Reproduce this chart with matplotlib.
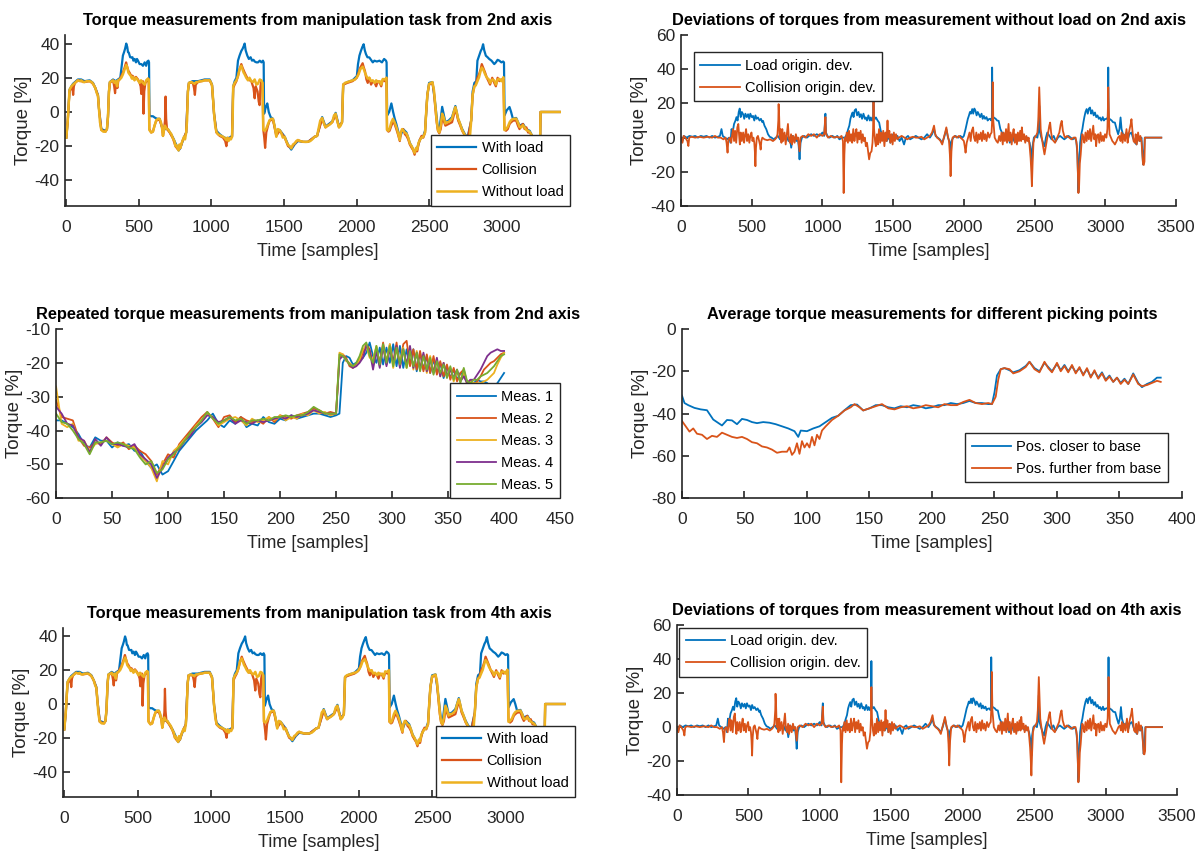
import matplotlib
matplotlib.use("Agg")
import matplotlib.pyplot as plt
import numpy as np

# ---------------- data ----------------
# manipulation task, torque [%] vs sample  (2nd and 4th axis look identical)
without_load = [(0,-15),(10,-5),(22,13),(35,15),(46,16),(60,17),(80,18.5),(95,18),(103,18.5),(115,17.5),(126,17.5),(140,18),(161,18),(175,17.5),(184,16.5),(200,14),(210,11),(218,9.5),(225,2),(232,-6),(241,-10.5),(255,-11.5),(270,-11.5),(280,-10),(287,-3),(294,12),(300,17.5),(312,18),(322,18.5),(332,17),(340,18),(350,15),(356,18.5),(368,19),(379,20),(390,22),(402,25),(413,27.5),(420,26),(428,23),(436,22),(445,21),(452,19.5),(459,20.5),(470,18.5),(480,20),(494,18.5),(505,17),(515,18.5),(528,17),(540,16),(550,18.5),(563,19.5),(568,19),(572,-10.5),(585,-12),(597,-11.5),(608,-8),(620,-4.8),(632,-4),(643,-4),(652,-6),(659,-8.7),(666,-14),(673,-10.5),(680,-8),(689,-9.7),(700,-10),(712,-11.6),(724,-13),(735,-15.5),(745,-17),(752,-20),(758,-19.3),(765,-21),(774,-22.5),(780,-19),(786,-21),(792,-19),(800,-17),(811,-14.5),(818,-16),(826,-12),(832,-5),(838,12),(845,17),(861,17.5),(872,17),(884,16.5),(895,17.5),(907,17.5),(920,18),(935,18),(953,18.5),(970,18.5),(988,18.5),(998,17),(1004,15.5),(1011,8),(1018,-1),(1026,-8),(1034,-11.6),(1045,-13),(1057,-13.5),(1068,-14),(1080,-14.5),(1090,-15),(1103,-16.5),(1110,-15),(1118,-17),(1125,-15.5),(1134,-16),(1142,-14.5),(1146,-5),(1150,15),(1160,17),(1172,18.5),(1183,21),(1194,25),(1206,27),(1214,25),(1222,23),(1229,22),(1240,20),(1252,18.5),(1262,20),(1275,18),(1286,17.5),(1298,19),(1310,16),(1321,16.5),(1333,19),(1344,18.5),(1352,17),(1357,-10.5),(1368,-11),(1378,-9.7),(1390,-7),(1401,-4.8),(1413,-4),(1424,-4),(1435,-8),(1447,-14.5),(1458,-10),(1470,-10.6),(1480,-12),(1492,-15),(1505,-14.5),(1515,-17),(1528,-19.3),(1540,-20),(1550,-21.3),(1562,-19),(1573,-18.4),(1585,-17),(1596,-16.4),(1610,-17),(1631,-17.4),(1650,-17.5),(1665,-17.4),(1681,-17),(1695,-16),(1711,-14.5),(1728,-14),(1740,-9),(1750,-5),(1763,-3.5),(1772,-6),(1786,-9),(1800,-8),(1809,-7.7),(1820,-7),(1833,-5.8),(1845,-2),(1856,-1),(1866,-5),(1879,-9),(1890,-8),(1900,-6),(1904,5),(1908,16),(1920,17),(1937,17.5),(1955,18),(1972,18.5),(1990,19),(2002,20.3),(2014,22),(2026,25),(2042,26.5),(2050,25),(2058,23),(2068,21),(2077,19.5),(2088,20),(2100,18),(2112,18.5),(2125,17),(2135,18.5),(2147,17.5),(2160,18),(2170,16),(2181,19.3),(2195,19),(2206,20),(2210,-10.5),(2220,-11),(2228,-9.7),(2240,-6),(2251,-4),(2262,-6),(2274,-8.7),(2285,-12),(2298,-16.4),(2305,-12),(2314,-10),(2321,-10.6),(2333,-12),(2344,-12.6),(2356,-15),(2367,-18.4),(2380,-20),(2391,-22.2),(2400,-24),(2410,-21),(2418,-22),(2427,-18),(2437,-16.4),(2448,-15),(2460,-14.5),(2472,-12),(2480,0),(2488,10),(2500,16.4),(2512,17),(2523,17.4),(2533,13),(2542,4.8),(2552,-5),(2561,-10.6),(2570,-12),(2580,-8),(2590,-1),(2600,-3),(2612,-6.8),(2623,-6),(2635,-5.8),(2646,-5),(2658,-3.9),(2670,0),(2681,2.9),(2690,0),(2700,-4),(2710,-6),(2728,-10.6),(2747,-13.5),(2765,-16),(2780,-16),(2790,-5),(2800,10),(2812,15),(2821,15.5),(2833,18),(2844,20.3),(2855,24),(2863,26),(2872,25),(2886,22),(2898,20),(2909,19.3),(2920,17),(2935,19),(2949,18.4),(2960,16),(2972,19),(2984,19.3),(2998,18),(3012,20.3),(3019,-10.6),(3030,-10),(3042,-8.7),(3055,-6),(3065,-4.8),(3080,-4),(3100,-3.9),(3112,-6),(3123,-8.7),(3135,-9),(3147,-7.7),(3158,-9),(3170,-10.6),(3182,-11),(3193,-11.6),(3210,-14),(3230,-16),(3250,-18),(3265,-17),(3268,0),(3300,0),(3350,0),(3400,0)]

with_load = [(0,-15),(10,-5),(22,13),(35,15),(46,16.5),(60,17.5),(80,19),(103,19),(126,18),(161,18.5),(184,17),(200,14),(218,10),(225,2),(241,-10),(270,-11),(280,-10),(287,-3),(294,12),(300,17.5),(322,19),(340,18),(356,19),(372,20),(380,26),(390,33),(398,35),(405,37),(413,40),(420,38),(425,35),(430,34.8),(440,32),(448,31.9),(456,32),(462,30),(471,31),(480,29),(487,31),(494,30),(505,28),(517,28),(528,27),(540,29),(550,27),(558,29.5),(566,30),(570,29),(573,-2),(585,-2.5),(597,-2.5),(610,-3.3),(625,-4),(643,-4),(659,-8.7),(673,-10),(700,-10),(735,-15),(758,-19.3),(774,-22.5),(786,-21),(800,-17.5),(811,-15),(826,-12),(838,12),(845,17),(870,18),(907,18),(953,19),(988,19),(1004,16),(1018,-1),(1034,-11),(1057,-13),(1080,-14.5),(1103,-15.5),(1125,-15),(1142,-14),(1150,15),(1160,18),(1172,20),(1183,30),(1194,33),(1206,35.7),(1215,37),(1225,39),(1229,40),(1236,36),(1247,33),(1258,31),(1270,32),(1280,30),(1290,30.5),(1298,29.5),(1310,29),(1321,29),(1333,30),(1345,29),(1355,30),(1360,29),(1363,-1),(1375,3),(1385,5),(1395,0),(1408,-3),(1424,-4),(1447,-13),(1470,-10.5),(1505,-14.5),(1530,-19.5),(1550,-22),(1573,-19),(1596,-17),(1631,-17.5),(1665,-17.5),(1711,-14.5),(1728,-14),(1763,-3),(1786,-8.5),(1833,-5.5),(1856,-0.5),(1879,-8.5),(1900,-6),(1908,16),(1937,17.5),(1972,18.5),(2002,21),(2010,28),(2020,33),(2030,35.7),(2040,38),(2049,39.6),(2057,36),(2065,33.8),(2075,32),(2088,31.9),(2100,30.5),(2112,29),(2123,30),(2140,29.5),(2158,30),(2175,29),(2190,31),(2203,30),(2207,29),(2211,-2),(2225,0),(2240,5),(2252,0),(2263,-3.9),(2274,-7),(2298,-15),(2321,-10),(2344,-12),(2367,-18),(2391,-22),(2400,-23),(2418,-21),(2437,-16),(2460,-14),(2472,-11),(2488,10),(2500,17),(2523,17.5),(2542,5),(2561,-10),(2570,-11),(2590,3),(2600,-1),(2612,-6),(2635,-5),(2658,-3),(2681,3.5),(2700,-4),(2728,-10),(2747,-13),(2765,-15),(2790,-5),(2800,12),(2812,17),(2825,18),(2833,30),(2845,33),(2856,35.7),(2864,37),(2872,39.6),(2880,36),(2891,32.9),(2903,32),(2914,31),(2930,30),(2949,28),(2960,29),(2972,30.5),(2984,30),(2998,29),(3010,29.5),(3016,29),(3020,-2),(3035,1),(3054,2.9),(3065,0),(3077,-3.9),(3100,-3.5),(3123,-8),(3147,-7),(3170,-10),(3193,-11),(3210,-14),(3250,-17),(3265,-17),(3268,0),(3400,0)]

collision = [(0,-15),(10,-5),(22,12),(35,14),(42,15),(47,10),(52,15),(60,17),(80,18.5),(103,18),(126,17.5),(161,18),(184,16.5),(200,14),(218,9.5),(225,2),(241,-10.5),(270,-11.5),(280,-10),(287,-3),(294,12),(300,17),(322,18.5),(330,15),(336,11),(342,17),(352,14),(358,18),(370,19.5),(379,21),(390,23),(402,26),(412,29),(418,27),(428,24),(436,23),(445,21.5),(459,21),(470,19),(480,20.5),(494,19),(505,17),(512,15),(517,10.5),(522,17),(528,18),(532,-1),(537,12),(545,17),(555,18),(563,19.5),(568,19),(572,-10),(585,-12),(597,-11.5),(608,-8),(620,-5),(643,-4.5),(659,-9),(666,-14),(673,-10.5),(680,-5),(684,9),(688,-4),(694,-10),(712,-12),(735,-15.5),(752,-20),(765,-21.5),(774,-22),(786,-21),(800,-17),(811,-15),(826,-12),(838,12),(845,17),(872,17),(880,14),(886,10),(892,16),(907,17.5),(953,18.5),(988,18.5),(1004,15.5),(1018,-1),(1034,-12),(1057,-14),(1080,-15),(1095,-17),(1103,-20),(1110,-15.5),(1125,-15.5),(1142,-14.5),(1150,14),(1160,16),(1172,18),(1183,21),(1194,25),(1206,28),(1214,26),(1229,23),(1252,19),(1275,18),(1290,14),(1298,8),(1305,15),(1318,12),(1326,6),(1332,4),(1338,15),(1344,18),(1352,17),(1357,-10),(1364,-15),(1370,-21),(1378,-12),(1390,-8),(1401,-5),(1424,-4.5),(1447,-14),(1470,-11),(1505,-15),(1528,-20),(1550,-21),(1573,-18.5),(1596,-16.5),(1631,-17.5),(1665,-17.5),(1711,-14.5),(1728,-14),(1763,-4),(1786,-9),(1833,-6),(1856,-1.5),(1879,-9),(1900,-6),(1908,16),(1937,17),(1972,18),(2002,20),(2014,23),(2026,26),(2042,28.5),(2050,26),(2058,24),(2068,19),(2077,17),(2088,20),(2100,16),(2112,18),(2125,17),(2135,15),(2147,18),(2160,17),(2170,15),(2181,19),(2195,18),(2206,20),(2210,-10.5),(2220,-11.5),(2228,-11),(2240,-8),(2251,-6),(2262,-7),(2274,-10),(2285,-13),(2298,-17),(2305,-12),(2321,-10),(2333,-13),(2344,-14),(2356,-16),(2367,-19),(2380,-21),(2391,-22.5),(2400,-25),(2410,-22),(2418,-23),(2427,-19),(2437,-16),(2448,-14),(2460,-15),(2472,-12),(2480,0),(2488,10),(2500,16),(2512,16.5),(2523,17),(2533,12),(2542,3),(2552,-6),(2561,-11),(2570,-12.5),(2580,-10),(2590,-4),(2600,-5),(2612,-8),(2635,-7),(2658,-6),(2670,-2),(2681,1),(2690,-1),(2700,-5),(2710,-7),(2728,-11),(2747,-14),(2765,-16),(2790,-5),(2800,10),(2812,15),(2821,16),(2833,20),(2844,22),(2855,25),(2863,28),(2872,26),(2886,23),(2898,20),(2909,18),(2920,16),(2935,20),(2949,17),(2960,15),(2972,20),(2984,18),(2998,19),(3012,19),(3019,-10),(3030,-11),(3042,-10),(3055,-7),(3065,-6),(3080,-5),(3100,-5),(3112,-8),(3123,-10),(3135,-8),(3147,-7),(3158,-10),(3170,-9),(3182,-12),(3193,-12),(3210,-14),(3230,-16),(3250,-18),(3265,-17),(3268,0),(3400,0)]

# deviations from the measurement without load
load_dev = [(0,0),(10,-2),(20,1),(40,0),(60,1),(80,0.5),(100,1),(120,0),(140,1),(160,0.5),(180,1),(200,0),(220,1),(240,0),(260,0.5),(275,1),(286,5),(295,1),(310,0),(325,-1),(340,0),(350,-3),(357,5),(365,3),(375,8),(385,10),(392,12),(400,10),(408,15),(415,17),(422,12),(430,15),(439,13.7),(447,11),(455,14),(465,12),(474,13.7),(482,11),(490,14),(500,12),(509,12.7),(518,10),(526,13),(535,11),(544,11.8),(555,10),(565,11),(575,9),(580,9.8),(590,7),(603,4.9),(615,2),(627,0.5),(640,0),(655,-1),(670,0),(685,1),(700,-1),(715,2),(730,0),(745,1),(760,-2),(770,0),(779,-5.9),(790,1),(800,0),(815,-2),(825,0),(832,-5),(838,-12.7),(845,-3),(855,0),(870,1),(890,0),(905,1),(920,2),(940,1),(960,2),(980,1),(1000,3),(1012,1),(1018,10),(1021,14),(1025,3),(1035,1),(1050,0),(1070,1),(1090,0),(1105,1),(1120,-1),(1140,0),(1160,0),(1172,2),(1182,5),(1190,7),(1198,11),(1205,13),(1213,14.7),(1220,12),(1228,16),(1237,16.7),(1245,13),(1255,15),(1263,12),(1272,13.7),(1280,11),(1290,14),(1300,11),(1307,11.8),(1315,10),(1325,13),(1335,10),(1342,11.8),(1350,10),(1358,12),(1361,38.8),(1364,12),(1372,11),(1378,11.8),(1390,10),(1401,8.8),(1412,4),(1425,1),(1440,0),(1455,-2),(1470,1),(1480,-3),(1490,0),(1500,2),(1515,-1),(1530,1),(1545,-2),(1560,0),(1577,-4),(1590,0),(1605,1),(1620,-1),(1640,0),(1660,1),(1680,0),(1700,-1),(1720,0),(1740,2),(1760,0),(1775,2),(1789,5),(1800,1),(1815,0),(1830,-1),(1847,-3),(1860,0),(1876,5),(1888,0),(1900,-3),(1906,-8),(1912,-2),(1925,0),(1940,1),(1960,0),(1975,1),(1990,0),(2000,1),(2012,5),(2020,8),(2028,11),(2035,12.7),(2043,15),(2050,14),(2059,16.7),(2066,14),(2074,17),(2082,15.7),(2090,13),(2098,15),(2106,13.7),(2115,12),(2125,14),(2133,11),(2141,12.7),(2150,11),(2160,12),(2168,10),(2176,10.8),(2185,11),(2194,10),(2198,12),(2200,41),(2203,12),(2211,11.8),(2225,11),(2235,10),(2246,9.8),(2258,5),(2270,2.9),(2282,0),(2293,0),(2305,-2),(2315,1),(2325,-3),(2335,0),(2345,2),(2355,-2),(2365,0),(2375,-3),(2390,1),(2405,-1),(2420,0),(2435,-2),(2450,0),(2465,-3),(2475,-8),(2481,-16.7),(2486,-5),(2495,0),(2505,1),(2520,0),(2528,5),(2533,18.6),(2538,3),(2548,0),(2560,-3),(2570,-5),(2580,0),(2590,3),(2605,1),(2620,-1),(2635,1),(2650,-2),(2665,0),(2680,1),(2695,0),(2710,-1),(2725,0),(2740,1),(2755,0),(2770,-1),(2785,0),(2795,-2),(2803,-10),(2810,-32),(2815,-15),(2822,-3),(2830,2),(2838,5),(2845,8.8),(2852,12),(2860,15),(2868,16.7),(2876,14),(2884,17),(2892,17.6),(2900,14),(2908,16),(2918,13),(2927,14.7),(2936,12),(2945,13),(2954,11),(2962,11.8),(2972,10),(2982,12),(2990,10),(2997,10.8),(3010,11),(3018,12),(3021,41),(3024,11),(3033,10.8),(3045,10),(3055,9),(3068,8.8),(3080,5),(3091,2),(3100,5),(3108,11.8),(3115,5),(3125,2),(3138,1),(3150,3),(3160,-1),(3170,2),(3185,3),(3195,0),(3205,-2),(3220,-4),(3232,0),(3245,-2),(3256,0),(3262,-8),(3267,-15.7),(3272,-12),(3279,0),(3396,0)]

collision_dev = [(0,0),(10,-3),(18,1),(30,0),(45,-2),(52,-4.9),(58,0),(75,0.5),(100,0),(130,0.5),(160,0),(190,0.5),(220,0),(240,1),(260,0),(280,0),(300,-1),(315,0),(322,-3),(329,-8.8),(335,-1),(345,0),(355,-3),(362,2),(368,5),(375,-2),(382,4),(390,-3),(398,6),(405,8),(410,2),(416,-4),(422,3),(430,-2),(439,3),(446,-3),(452,1),(460,5),(467,-2),(475,2),(483,-3),(490,1),(498,3),(505,-2),(512,0),(518,-3),(522,-8),(526,-16.7),(530,-6),(536,0),(544,1),(552,-2),(558,-4),(563,-7),(568,-2),(575,0),(590,-1),(610,-1.5),(630,-1),(650,-2),(665,-1),(675,0),(682,2),(688,10),(690,19.6),(694,12),(698,0),(704,4.9),(710,-3),(716,5),(722,-2),(732,3),(740,-4),(748,2),(756,8),(762,0),(770,-3),(778,2),(785,-4),(793,1),(803,-3),(812,2),(820,-1),(828,0),(838,-8),(845,0),(860,1),(880,0),(900,2),(920,1),(940,2),(960,0),(980,2),(1000,1),(1012,2),(1018,8),(1021,12),(1025,2),(1040,0),(1060,1),(1080,0),(1100,0.5),(1120,0),(1135,1),(1145,-2),(1150,-32.4),(1155,-10),(1160,0),(1166,-2),(1172,3),(1180,-3),(1188,4),(1195,-2),(1203,2),(1210,-3),(1218,5),(1226,-2),(1233,2),(1240,5),(1247,-3),(1255,3),(1262,-1),(1270,4),(1277,-3),(1285,2),(1292,-2),(1300,0),(1307,-5),(1315,-3),(1323,-8),(1330,-12.7),(1338,-9),(1347,-8),(1354,-3),(1358,5),(1361,23.5),(1365,5),(1372,-2),(1378,-5),(1385,2),(1392,-4),(1400,5),(1408,-3),(1415,3),(1422,-2),(1430,4),(1438,-5),(1446,3),(1453,-2),(1460,10),(1466,0),(1473,4),(1480,-3),(1488,2),(1496,-4),(1505,3),(1512,-2),(1520,2),(1530,-1),(1540,0),(1560,1),(1580,0),(1600,-1),(1620,0),(1640,0.5),(1660,0),(1680,0),(1700,0.5),(1720,-1),(1740,0),(1760,1),(1775,3),(1789,7),(1798,2),(1810,0),(1825,-1),(1835,-2),(1847,-4),(1858,0),(1868,3),(1876,6),(1886,1),(1895,-2),(1901,-10),(1906,-22.5),(1912,-8),(1920,0),(1935,1),(1950,0),(1965,1),(1976,0),(1990,-1),(2000,-2),(2006,-5),(2012,-8.8),(2020,-3),(2030,0),(2040,3),(2048,-2),(2056,4),(2065,6),(2072,0),(2080,-2),(2088,3),(2096,-3),(2104,2),(2112,-1),(2120,3),(2128,-2),(2136,4),(2144,-1),(2152,2),(2160,-2),(2170,3),(2180,0),(2188,2),(2196,3),(2200,10),(2204,32.4),(2208,10),(2218,0),(2230,-2),(2240,-3),(2250,1),(2258,-2),(2266,3),(2275,-4),(2281,3),(2290,-2),(2298,5),(2305,-3),(2312,4),(2316,8),(2322,-2),(2330,3),(2338,-4),(2345,2),(2352,5),(2360,-3),(2368,2),(2375,-4),(2382,3),(2390,-2),(2398,4),(2405,-2),(2410,6),(2418,-1),(2426,2),(2434,-3),(2442,1),(2450,-2),(2458,0),(2465,-5),(2472,-12),(2477,-20),(2481,-28.4),(2486,-15),(2492,-3),(2500,0),(2510,1),(2520,3),(2526,10),(2530,22),(2533,29.4),(2537,20),(2543,5),(2551,0),(2560,-5),(2570,-9.8),(2580,-5),(2590,0),(2598,4),(2604,7),(2610,8.8),(2617,3),(2625,-1),(2635,-2),(2645,-3),(2655,-1),(2665,1),(2675,3),(2685,8),(2692,9.8),(2700,4),(2710,1),(2716,0),(2730,1),(2745,0),(2760,-1),(2775,0),(2790,0),(2800,-5),(2806,-20),(2810,-32.4),(2815,-28),(2820,-15),(2826,-10),(2832,-3),(2838,2),(2845,0),(2852,-3),(2860,3),(2868,-2),(2876,4),(2884,-1),(2892,5),(2900,-2),(2908,3),(2915,7),(2922,-1),(2930,2),(2935,-5),(2942,1),(2950,2),(2958,-3),(2966,3),(2975,-2),(2983,1),(2990,-2),(2998,2),(3008,0),(3015,5),(3018,15),(3021,29.4),(3025,15),(3030,2),(3040,0),(3050,-2),(3060,-3),(3068,-4),(3080,-2),(3090,0),(3100,1),(3108,-2),(3115,3),(3122,-3),(3130,2),(3140,-2),(3150,5),(3158,-3),(3165,2),(3172,5),(3180,8),(3185,10.8),(3192,4),(3200,-2),(3209,-3),(3215,2),(3222,-4),(3232,3),(3240,-2),(3248,1),(3256,-2),(3262,-10),(3267,-15.7),(3272,-16),(3277,-14),(3280,0),(3396,0)]

# repeated measurements (2nd axis): samples 0..250 step 5, then 253..400 step 3
rep_t = list(range(0, 251, 5)) + list(range(253, 401, 3))
meas1 = [-37,-37,-38,-39,-41,-44,-45,-42,-43,-43,-45,-43.5,-44.5,-44,-46,-46,-49,-51,-50,-53,-52,-49,-46,-44,-42,-40,-38.5,-37,-35,-38,-39,-37,-38,-36,-39,-38,-38.5,-36,-37.5,-38,-36.5,-37,-35.5,-36.5,-36,-35.5,-35,-35,-35.5,-36,-35.5,
         -35,-20,-18,-18.5,-20.5,-20,-19,-18.5,-17,-14,-18,-20,-15.5,-20.5,-15.5,-20,-14.5,-21,-15,-21.5,-16,-20.5,-16,-22.5,-17,-22,-18,-23,-19,-23,-20,-24.5,-21,-24.5,-22,-25,-23,-23.5,-25.5,-26,-26,-25,-25.5,-25.5,-26,-27,-27,-26,-24.5,-23]
meas2 = [-31,-36,-36.5,-37,-42,-44.5,-45,-43.5,-44,-42,-43.5,-44.5,-43.5,-45.5,-44.5,-46,-47,-49,-53,-50,-47,-48,-44,-42,-40,-38,-36,-34.5,-36.5,-39,-36,-35.5,-37.5,-36,-37,-37.5,-37,-38,-36,-37.5,-35.5,-36,-36.5,-35.5,-35,-34.5,-33.5,-34,-35,-34.5,-35,
         -18.5,-17.5,-18.5,-21,-21.5,-20.5,-19.5,-17,-14.5,-16,-20.5,-15.5,-20,-14,-20.5,-14.5,-20,-14,-21,-14.5,-13.5,-21,-16,-22,-16.5,-22.5,-17.5,-23,-18,-23.5,-19.5,-24,-20.5,-25,-21.5,-25.5,-23,-22,-26,-25,-26.5,-25.5,-24,-22,-21,-20,-19.5,-18.5,-17.5,-17]
meas3 = [-27,-38,-39,-38,-43,-43,-46,-44,-43.5,-43,-44,-45,-44,-44.5,-45,-47.5,-49,-51,-55,-49,-50,-46,-44.5,-42.5,-41,-38.5,-37,-35,-36,-38.5,-37.5,-36.5,-36,-37,-38.5,-36.5,-37.5,-37,-36,-37,-35.5,-37,-36,-36.5,-35,-35.5,-34,-35,-34.5,-35.5,-35,
         -17,-17.5,-19.5,-20,-21,-21,-19,-16,-15,-18.5,-19,-15,-21,-15.5,-19.5,-14.5,-21.5,-16,-20,-15.5,-21.5,-15.5,-22,-16.5,-21.5,-17.5,-23,-18,-22.5,-19,-24,-20,-24,-21.5,-25.5,-22.5,-25,-23,-26.5,-25.5,-26,-26,-26,-25.5,-25,-24,-23,-20.5,-18.5,-17]
meas4 = [-33,-35,-38,-38.5,-42,-43,-46.5,-42.5,-44.5,-42,-44,-44,-44.5,-45,-44,-47,-48.5,-50,-54,-51,-48,-46.5,-45.5,-43,-41.5,-39,-37.5,-35.5,-36,-37.5,-37,-36,-38,-37,-37.5,-38,-37,-37.5,-37,-36.5,-36,-36.5,-35.5,-36,-35.5,-35,-34,-34.5,-35,-35,-35,
         -19,-18,-19,-20.5,-21.5,-21,-20,-18.5,-15,-16.5,-22,-16.5,-21.5,-15,-21,-16,-20,-15,-21.5,-16,-20.5,-15,-21.5,-17,-22,-17,-22.5,-19,-23,-18.5,-24,-20,-24,-22,-24.5,-22,-25.5,-24,-26,-25,-25,-23.5,-22,-20,-18,-17,-16.5,-16,-16.5,-16.5]
meas5 = [-35,-37.5,-38,-40,-42.5,-44,-47,-43.5,-43.5,-43,-44,-43.5,-44,-45,-45.5,-48,-50,-49,-52.5,-51.5,-48.5,-47,-45,-43,-40.5,-39,-37,-34.5,-36.5,-38,-37,-36,-37,-36.5,-38,-37,-37,-36.5,-37,-36,-36,-35.5,-36,-35.5,-35.5,-34.5,-33,-34,-35,-35,-35,
         -17.5,-18,-19,-20.5,-21,-20,-18,-15,-14,-18,-20,-15,-20.5,-14.5,-20,-15,-21,-15.5,-20.5,-16,-21.5,-16.5,-21,-17,-22.5,-18,-22,-18.5,-23.5,-19.5,-23,-20.5,-24.5,-21,-25,-22,-26,-21.5,-25.5,-26,-25,-25,-24,-23.5,-23,-22,-21,-19.5,-18,-17.5]

# average torque for two picking points
pos_closer = [(0,-31.5),(2,-35),(5,-36),(10,-37.3),(15,-38),(20,-38.4),(25,-42.8),(28,-44),(32,-45.6),(36,-43),(40,-43.2),(44,-45),(48,-42.5),(52,-43),(56,-44),(60,-44.5),(65,-44),(70,-44.3),(75,-45),(80,-46),(85,-47),(90,-48.3),(93,-51),(95,-48),(100,-48.3),(105,-47),(110,-46),(115,-44),(120,-42),(125,-41),(130,-38.4),(135,-36),(140,-35.7),(145,-38.5),(150,-37.5),(155,-36),(160,-36),(165,-37),(170,-37.5),(175,-36.5),(180,-37),(185,-36),(190,-36.5),(195,-37.5),(200,-37),(205,-36),(210,-36),(215,-35),(220,-35.5),(225,-35),(230,-34),(235,-35),(240,-35),(245,-35.5),(248,-35.5),(250,-30),(252,-22),(255,-19),(258,-18.5),(262,-19.5),(265,-20.5),(270,-19.5),(275,-17.5),(278,-15.5),(282,-18.5),(286,-20),(290,-16),(293,-18),(296,-20),(300,-16.5),(303,-19.5),(306,-17),(309,-20),(312,-17.5),(315,-20.5),(318,-18.5),(321,-21.5),(324,-19),(327,-22.5),(330,-20),(333,-23),(336,-20.5),(339,-24),(342,-22),(345,-25),(348,-23),(351,-25.5),(354,-23.5),(357,-26),(361,-21),(365,-25.5),(368,-27.5),(372,-26),(376,-25),(380,-23),(383,-23)]
pos_further = [(0,-43.5),(3,-46),(6,-48.5),(9,-47),(12,-49.5),(16,-50),(20,-52),(24,-50.5),(28,-51),(32,-49),(36,-50),(40,-51),(44,-51.5),(48,-51),(52,-52),(56,-53.5),(60,-54),(64,-55.5),(68,-56),(72,-57),(76,-58.5),(80,-58),(84,-58),(86,-56),(88,-59.5),(90,-58),(92,-54),(94,-59),(96,-53),(98,-56),(100,-54),(102,-56),(104,-51),(106,-55),(108,-50),(110,-52),(112,-48),(115,-46),(120,-43),(125,-41),(130,-38.5),(135,-37),(138,-35.5),(142,-37),(145,-38.5),(150,-37.5),(155,-36.5),(160,-35.5),(165,-37.5),(170,-38),(175,-37),(180,-36.5),(185,-37.5),(190,-37),(195,-36),(200,-36.5),(205,-37),(210,-35.5),(215,-36),(220,-36),(225,-34.5),(230,-33.5),(235,-35),(240,-35.5),(245,-35),(248,-35.5),(251,-32),(253,-24),(255,-19),(258,-18.5),(262,-19),(265,-21),(270,-20),(275,-18),(278,-15.5),(282,-19),(286,-20.5),(290,-15.5),(293,-18.5),(296,-20.5),(300,-16),(303,-20),(306,-17.5),(309,-20.5),(312,-17),(315,-21),(318,-18),(321,-22),(324,-18.5),(327,-23),(330,-19.5),(333,-23.5),(336,-21),(339,-24.5),(342,-22.5),(345,-25),(348,-23),(351,-26),(354,-24),(357,-26),(361,-21.5),(365,-26),(368,-27),(372,-26.5),(376,-25.5),(380,-24.5),(383,-25)]

BLUE, ORANGE, YELLOW, PURPLE, GREEN = "#0072BD", "#D95319", "#EDB120", "#7E2F8E", "#77AC30"
DARK = "#262626"

plt.rcParams["font.family"] = ["Liberation Sans", "DejaVu Sans"]
plt.rcParams["axes.linewidth"] = 1.2
plt.rcParams["axes.unicode_minus"] = False


def xy(pairs):
    a = np.asarray(pairs, dtype=float)
    return a[:, 0], a[:, 1]


def style(ax, title, xlim, ylim, xticks, yticks):
    ax.set_xlim(*xlim)
    ax.set_ylim(*ylim)
    ax.set_xticks(xticks)
    ax.set_yticks(yticks)
    for s in ("top", "right"):
        ax.spines[s].set_visible(False)
    for s in ("left", "bottom"):
        ax.spines[s].set_color(DARK)
    ax.tick_params(direction="in", length=5, width=1.2, colors=DARK, labelsize=12.5)
    ax.tick_params(axis="x", pad=10)
    ax.tick_params(axis="y", pad=4)
    ax.set_title(title, fontsize=11.8, fontweight="bold", color="black", pad=7)
    ax.set_xlabel("Time [samples]", fontsize=13, color=DARK, labelpad=6)
    ax.set_ylabel("Torque [%]", fontsize=13.5, color=DARK, labelpad=2)


def legend(ax, **kw):
    lg = ax.legend(fontsize=10.5, frameon=True, fancybox=False, framealpha=1,
                   edgecolor=DARK, handlelength=2.7, borderpad=0.45,
                   labelspacing=0.55, handletextpad=0.35, borderaxespad=0, **kw)
    lg.get_frame().set_linewidth(1.0)
    return lg


fig = plt.figure(figsize=(11.95, 8.56), dpi=100)

# torque measurements panels (2nd axis, 4th axis)
for rect, axis_name in (([0.0544, 0.7593, 0.4226, 0.1998], "2nd"),
                        ([0.0527, 0.0690, 0.4285, 0.1974], "4th")):
    ax = fig.add_axes(rect)
    ax.plot(*xy(with_load), color=BLUE, lw=1.6, label="With load")
    ax.plot(*xy(collision), color=ORANGE, lw=1.6, label="Collision")
    ax.plot(*xy(without_load), color=YELLOW, lw=1.8, label="Without load")
    style(ax, f"Torque measurements from manipulation task from {axis_name} axis",
          (-9, 3471), (-55, 45), range(0, 3001, 500), range(-40, 41, 20))
    legend(ax, loc="lower right", bbox_to_anchor=(1.0, 0.0))

# deviation panels
for rect, axis_name, anchor in (([0.5699, 0.7593, 0.4142, 0.1998], "2nd", (0.026, 0.90)),
                                ([0.5665, 0.0710, 0.4184, 0.1989], "4th", (0.004, 0.985))):
    ax = fig.add_axes(rect)
    ax.plot(*xy(load_dev), color=BLUE, lw=1.3, label="Load origin. dev.")
    ax.plot(*xy(collision_dev), color=ORANGE, lw=1.3, label="Collision origin. dev.")
    style(ax, f"Deviations of torques from measurement without load on {axis_name} axis",
          (0, 3500), (-40, 60), range(0, 3501, 500), range(-40, 61, 20))
    legend(ax, loc="upper left", bbox_to_anchor=anchor)

# repeated measurements
ax = fig.add_axes([0.0469, 0.4179, 0.4218, 0.1978])
for vals, col, lab in ((meas1, BLUE, "Meas. 1"), (meas2, ORANGE, "Meas. 2"),
                       (meas3, YELLOW, "Meas. 3"), (meas4, PURPLE, "Meas. 4"),
                       (meas5, GREEN, "Meas. 5")):
    ax.plot(rep_t, vals, color=col, lw=1.3, label=lab)
style(ax, "Repeated torque measurements from manipulation task from 2nd axis",
      (0, 450), (-60, -10), range(0, 451, 50), range(-60, -9, 10))
legend(ax, loc="lower right", bbox_to_anchor=(1.0, 0.0))

# picking points
ax = fig.add_axes([0.5707, 0.4179, 0.4184, 0.1978])
ax.plot(*xy(pos_closer), color=BLUE, lw=1.3, label="Pos. closer to base")
ax.plot(*xy(pos_further), color=ORANGE, lw=1.3, label="Pos. further from base")
style(ax, "Average torque measurements for different picking points",
      (0, 400), (-80, 0), range(0, 401, 50), range(-80, 1, 20))
legend(ax, loc="lower right", bbox_to_anchor=(0.972, 0.094))

fig.savefig("out.png", dpi=100)
